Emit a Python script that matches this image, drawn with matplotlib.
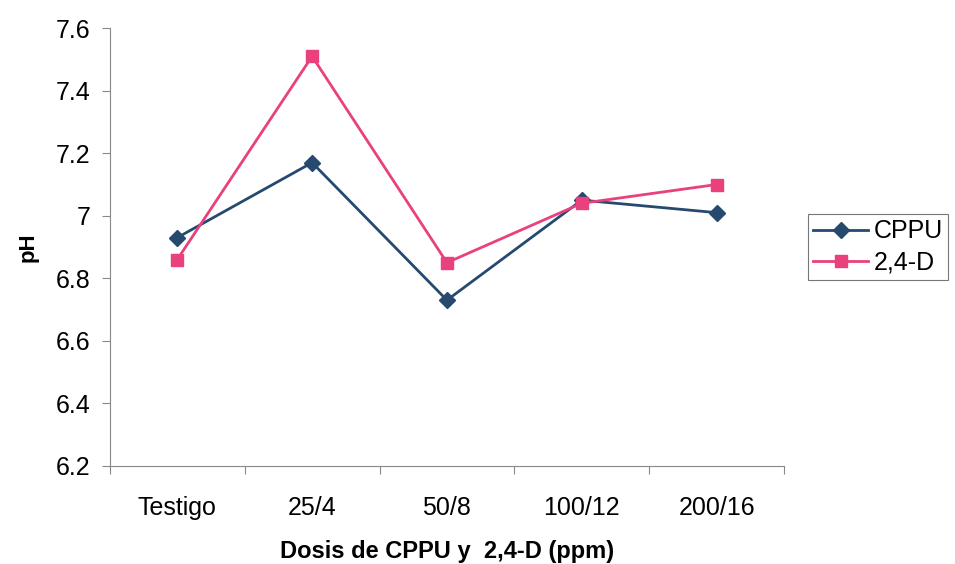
from matplotlib import pyplot as plt
import numpy as np

plt.rcParams['font.family'] = ['Liberation Sans', 'DejaVu Sans']

categorias = ['Testigo', '25/4', '50/8', '100/12', '200/16']
cppu = [6.93, 7.17, 6.73, 7.05, 7.01]
d24 = [6.86, 7.51, 6.85, 7.04, 7.10]

fig = plt.figure(figsize=(9.55, 5.64), dpi=100)
ax = fig.add_axes([0.115, 0.174, 0.706, 0.776])

x = np.arange(len(categorias))
ax.plot(x, cppu, color='#26496f', marker='D', markersize=8, lw=2, label='CPPU')
ax.plot(x, d24, color='#e8417e', marker='s', markersize=9, lw=2, label='2,4-D')

ax.set_xlim(-0.5, len(categorias) - 0.5)
ax.set_ylim(6.2, 7.6)
ax.set_yticks([6.2, 6.4, 6.6, 6.8, 7.0, 7.2, 7.4, 7.6])
ax.set_yticklabels(['6.2', '6.4', '6.6', '6.8', '7', '7.2', '7.4', '7.6'])
# ticks between categories, labels at the centres
ax.set_xticks(np.arange(-0.5, len(categorias), 1.0))
ax.set_xticklabels([])
ax.set_xticks(x, minor=True)
ax.set_xticklabels(categorias, minor=True)
ax.tick_params(axis='x', which='minor', length=0, pad=22, labelsize=18)
ax.tick_params(axis='x', which='major', length=6, color='#888888')
ax.tick_params(axis='y', length=6, color='#888888', labelsize=18, pad=8)

for s in ['top', 'right']:
    ax.spines[s].set_visible(False)
for s in ['left', 'bottom']:
    ax.spines[s].set_color('#888888')

ax.set_ylabel('pH', fontsize=16, fontweight='bold', labelpad=12)
ax.set_xlabel('Dosis de CPPU y  2,4-D (ppm)', fontsize=17, fontweight='bold', labelpad=14)

leg = ax.legend(loc='center left', bbox_to_anchor=(1.036, 0.5), fontsize=18,
                frameon=True, fancybox=False, handlelength=2.2, handletextpad=0.2,
                borderpad=0.2, labelspacing=0.3, borderaxespad=0)
leg.get_frame().set_edgecolor('#555555')
leg.get_frame().set_linewidth(0.8)

plt.savefig('out.png', dpi=100)
